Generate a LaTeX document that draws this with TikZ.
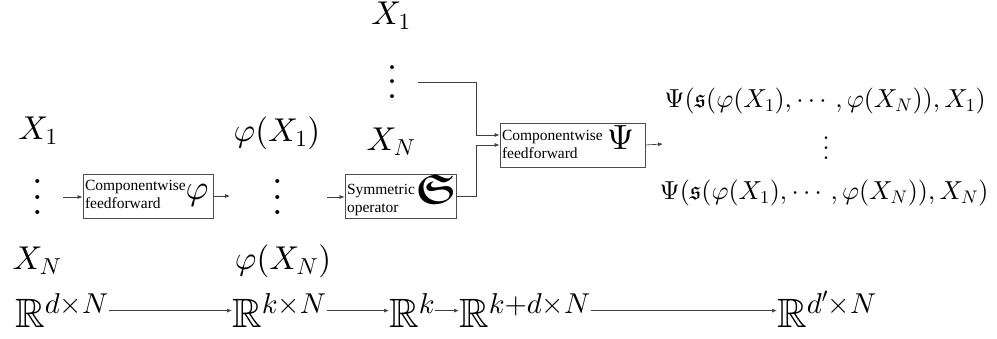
\documentclass[tikz,border=0pt]{standalone}
\usepackage{amsmath,amssymb}
\usepackage{graphicx}
\usepackage{fontspec}
\newfontfamily\boxfont{Liberation Serif}
\usetikzlibrary{arrows.meta}
\DeclareFontShape{OML}{cmm}{m}{it}{<-6>cmmi5<6-8>cmmi7<8->cmmi10}{}
\DeclareFontShape{OMS}{cmsy}{m}{n}{<-6>cmsy5<6-8>cmsy7<8->cmsy10}{}
\DeclareFontShape{OT1}{cmr}{m}{n}{<-6>cmr5<6-8>cmr7<8->cmr10}{}
\DeclareFontShape{OMX}{cmex}{m}{n}{<->cmex10}{}
\newcommand\myvdots{\vbox{\baselineskip4pt\lineskiplimit0pt\hbox{.}\hbox{.}\hbox{.}}}
\begin{document}
\begin{tikzpicture}[x=1pt,y=-1pt,
  mathL/.style={font=\fontsize{33}{40}\selectfont, inner sep=0pt},
  outtxt/.style={font=\fontsize{26}{31}\selectfont, inner sep=0pt},
  rtxt/.style={font=\fontsize{41}{48}\selectfont, inner sep=0pt},
  blk/.style={draw=black!70, line width=0.8pt, inner xsep=2pt, inner ysep=0pt, minimum height=44pt, font=\boxfont\fontsize{15.5}{18}\selectfont},
  dotsn/.style={inner sep=0pt},
  arr/.style={draw=black!75, line width=0.7pt, -{Latex[length=5pt,width=4pt]}}]
\useasboundingbox (0,0) rectangle (997,339);
% left column
\node[mathL, anchor=base] (x1) at (38,140) {$X_1$};
\node[dotsn] (dL) at (38,197) {\scalebox{3.8}{\myvdots}};
\node[mathL, anchor=base] (xN) at (37,270) {$X_N$};
% box 1
\node[blk, minimum width=130pt] (b1) at (148,196) {\makebox[126pt][s]{\begin{tabular}{@{}l@{}}Componentwise\\feedforward\end{tabular}\hfill{\fontsize{35}{40}\selectfont$\varphi$}\hspace*{7pt}}};
% phi column
\node[mathL, anchor=base] (p1) at (277,142) {$\varphi(X_1)$};
\node[dotsn] (dP) at (278,197) {\scalebox{3.8}{\myvdots}};
\node[mathL, anchor=base] (pN) at (283,270) {$\varphi(X_N)$};
% box 2
\node[blk, minimum width=111pt] (b2) at (400.5,196) {\makebox[107pt][s]{\begin{tabular}{@{}l@{}}Symmetric\\operator\end{tabular}\hfill{\fontsize{42}{44}\selectfont\boldmath$\mathfrak{S}$}\hspace*{7pt}}};
% middle column
\node[mathL, anchor=base] (m1) at (391,25) {$X_1$};
\node[dotsn] (dM) at (393,82) {\scalebox{3.6}{\myvdots}};
\node[mathL, anchor=base] (mN) at (391,151) {$X_N$};
% box 3
\node[blk, minimum width=145pt] (b3) at (572.5,145) {\makebox[141pt][s]{\begin{tabular}{@{}l@{}}Componentwise\\feedforward\end{tabular}\hfill{\fontsize{35}{40}\selectfont$\Psi$}\hspace*{9pt}}};
% output
\node[outtxt, anchor=base] (o1) at (825,108) {$\Psi(\mathfrak{s}(\varphi(X_1),\cdots,\varphi(X_N)),X_1)$};
\node[dotsn] (dO) at (826,148) {\scalebox{2.5}{\myvdots}};
\node[outtxt, anchor=base] (oN) at (824,200) {$\Psi(\mathfrak{s}(\varphi(X_1),\cdots,\varphi(X_N)),X_N)$};
\coordinate (oin) at (663,144);
% bottom row
\node[rtxt, anchor=base west] (r1) at (15,328) {$\mathbb{R}^{d\times N}$};
\node[rtxt, anchor=base west] (r2) at (232,328) {$\mathbb{R}^{k\times N}$};
\node[rtxt, anchor=base west] (r3) at (389,328) {$\mathbb{R}^{k}$};
\node[rtxt, anchor=base west] (r4) at (459,328) {$\mathbb{R}^{k+d\times N}$};
\node[rtxt, anchor=base west] (r5) at (777,328) {$\mathbb{R}^{d'\times N}$};
% connectors
\draw[arr] ([xshift=25pt]dL.center) -- (b1.west |- dL.center);
\draw[arr] (b1.east) -- ([xshift=-48pt]dP.center |- b1.east);
\draw[arr] ([xshift=49pt]dP.center) -- (b2.west |- dP.center);
\draw[arr] ([xshift=25pt]dM.center) -| ([xshift=-23pt,yshift=10pt]b3.west) -- ([yshift=10pt]b3.west);
\draw[arr] (b2.east) -| ([xshift=-23pt]b3.west) -- (b3.west);
\draw[arr] (b3.east) -- (oin);
\draw[arr] (r1.east) -- (r2.west |- r1.east);
\draw[arr] (r2.east) -- (r3.west |- r2.east);
\draw[arr] (r3.east) -- (r4.west |- r3.east);
\draw[arr] (r4.east) -- (r5.west |- r4.east);
\end{tikzpicture}
\end{document}
